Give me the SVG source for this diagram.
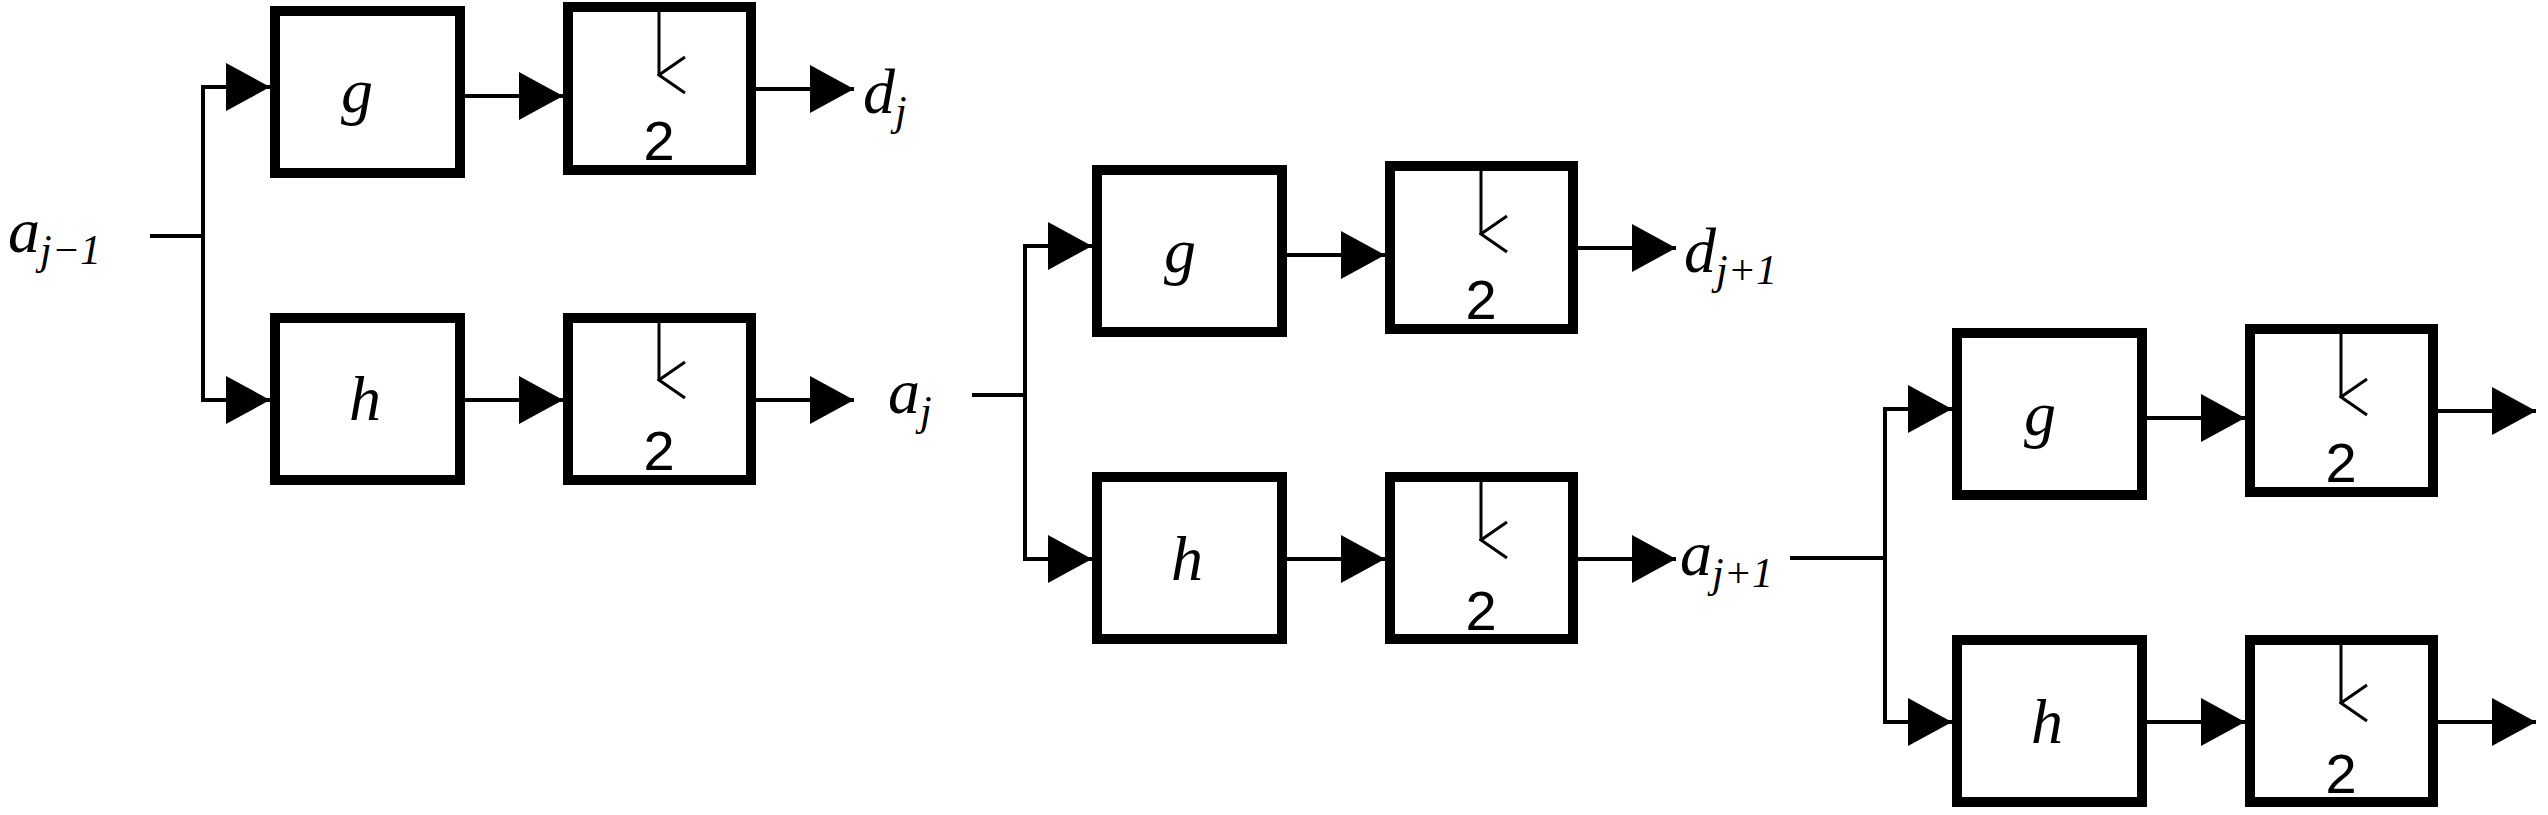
<svg xmlns="http://www.w3.org/2000/svg" width="2548" height="815" viewBox="0 0 2548 815">
<defs>
<style>
.box{fill:#fff;stroke:#000;stroke-width:10}
.ln{stroke:#000;stroke-width:4;fill:none}
.thin{stroke:#000;stroke-width:3;fill:none}
.m{font-family:"Liberation Serif",serif;font-style:italic;font-size:64px;fill:#000}
.s{font-size:42px}
.n{font-family:"Liberation Sans",sans-serif;font-size:56px;fill:#000;text-anchor:middle}
</style>
<marker id="ah" viewBox="0 0 44 48" refX="44" refY="24" markerWidth="44" markerHeight="48" markerUnits="userSpaceOnUse" orient="auto"><path d="M0,0 L44,24 L0,48 Z" fill="#000"/></marker>
<marker id="dn" viewBox="0 0 40 30" refX="20" refY="28" markerWidth="40" markerHeight="30" markerUnits="userSpaceOnUse" orient="auto-start-reverse"><path d="M2,2 L20,28 L38,2" fill="none" stroke="#000" stroke-width="3"/></marker>
</defs>
<rect width="2548" height="815" fill="#fff"/>
<g id="connectors">
<!-- stage 1 X=270 Y=6 -->
<path class="ln" d="M150,236 H203 M203,87 V400"/>
<path class="ln" d="M201,87 H270" marker-end="url(#ah)"/>
<path class="ln" d="M465,96 H563" marker-end="url(#ah)"/>
<path class="ln" d="M756,89 H854" marker-end="url(#ah)"/>
<path class="ln" d="M201,400 H270" marker-end="url(#ah)"/>
<path class="ln" d="M465,400 H563" marker-end="url(#ah)"/>
<path class="ln" d="M756,400 H854" marker-end="url(#ah)"/>
<!-- stage 2 X=1092 Y=165 -->
<path class="ln" d="M972,395 H1025 M1025,246 V559"/>
<path class="ln" d="M1023,246 H1092" marker-end="url(#ah)"/>
<path class="ln" d="M1287,255 H1385" marker-end="url(#ah)"/>
<path class="ln" d="M1578,248 H1676" marker-end="url(#ah)"/>
<path class="ln" d="M1023,559 H1092" marker-end="url(#ah)"/>
<path class="ln" d="M1287,559 H1385" marker-end="url(#ah)"/>
<path class="ln" d="M1578,559 H1676" marker-end="url(#ah)"/>
<!-- stage 3 X=1952 Y=328 -->
<path class="ln" d="M1790,558 H1885 M1885,409 V722"/>
<path class="ln" d="M1883,409 H1952" marker-end="url(#ah)"/>
<path class="ln" d="M2147,418 H2245" marker-end="url(#ah)"/>
<path class="ln" d="M2438,411 H2536" marker-end="url(#ah)"/>
<path class="ln" d="M1883,722 H1952" marker-end="url(#ah)"/>
<path class="ln" d="M2147,722 H2245" marker-end="url(#ah)"/>
<path class="ln" d="M2438,722 H2536" marker-end="url(#ah)"/>
</g>
<g id="s1-g"><rect class="box" x="275" y="11" width="185" height="162"/><text class="m" x="357" y="112" text-anchor="middle">g</text></g>
<g id="s1-dg"><rect class="box" x="568" y="7" width="183" height="163"/><path class="thin" d="M659,10 V75" marker-end="url(#dn)"/><text class="n" x="659" y="160">2</text></g>
<g id="s1-h"><rect class="box" x="275" y="318" width="185" height="162"/><text class="m" x="365" y="420" text-anchor="middle">h</text></g>
<g id="s1-dh"><rect class="box" x="568" y="318" width="183" height="162"/><path class="thin" d="M659,321 V380" marker-end="url(#dn)"/><text class="n" x="659" y="470">2</text></g>
<g id="s2-g"><rect class="box" x="1097" y="170" width="185" height="162"/><text class="m" x="1180" y="272" text-anchor="middle">g</text></g>
<g id="s2-dg"><rect class="box" x="1390" y="166" width="183" height="163"/><path class="thin" d="M1481,169 V234" marker-end="url(#dn)"/><text class="n" x="1481" y="319">2</text></g>
<g id="s2-h"><rect class="box" x="1097" y="477" width="185" height="162"/><text class="m" x="1187" y="580" text-anchor="middle">h</text></g>
<g id="s2-dh"><rect class="box" x="1390" y="477" width="183" height="162"/><path class="thin" d="M1481,480 V540" marker-end="url(#dn)"/><text class="n" x="1481" y="630">2</text></g>
<g id="s3-g"><rect class="box" x="1957" y="333" width="185" height="162"/><text class="m" x="2040" y="435" text-anchor="middle">g</text></g>
<g id="s3-dg"><rect class="box" x="2250" y="329" width="183" height="163"/><path class="thin" d="M2341,332 V397" marker-end="url(#dn)"/><text class="n" x="2341" y="482">2</text></g>
<g id="s3-h"><rect class="box" x="1957" y="640" width="185" height="162"/><text class="m" x="2047" y="743" text-anchor="middle">h</text></g>
<g id="s3-dh"><rect class="box" x="2250" y="640" width="183" height="162"/><path class="thin" d="M2341,643 V703" marker-end="url(#dn)"/><text class="n" x="2341" y="793">2</text></g>
<g id="labels">
<text class="m" x="8" y="252">a<tspan class="s" dy="12">j−1</tspan></text>
<text class="m" x="863" y="113">d<tspan class="s" dy="12">j</tspan></text>
<text class="m" x="888" y="413">a<tspan class="s" dy="12">j</tspan></text>
<text class="m" x="1684" y="272">d<tspan class="s" dy="12">j+1</tspan></text>
<text class="m" x="1680" y="575">a<tspan class="s" dy="12">j+1</tspan></text>
</g>
</svg>
